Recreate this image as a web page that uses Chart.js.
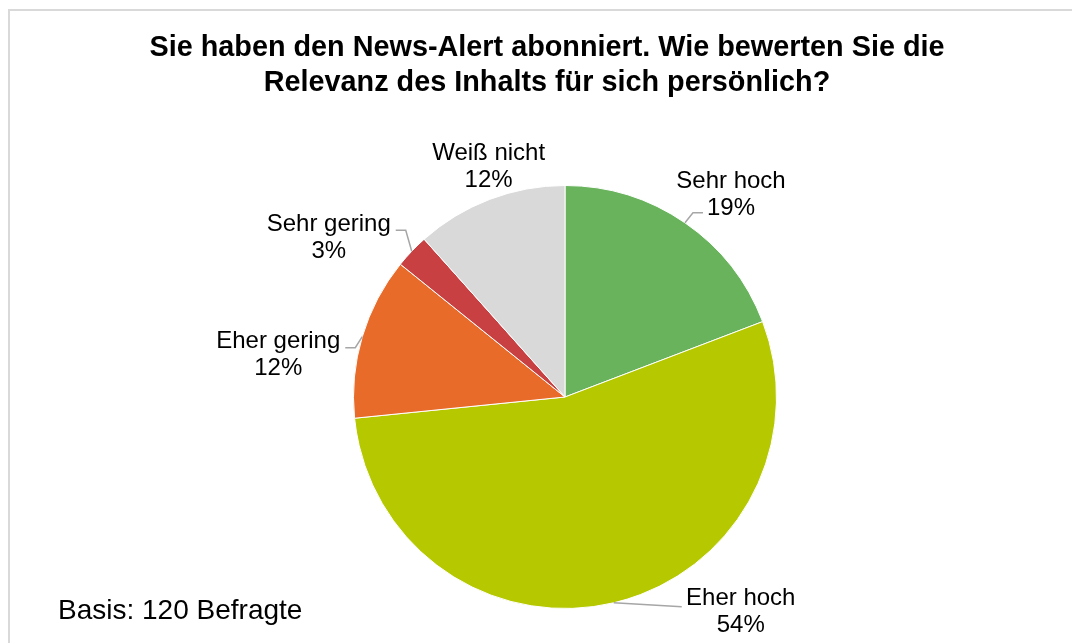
<!DOCTYPE html>
<html>
<head>
<meta charset="utf-8">
<script src="https://cdn.jsdelivr.net/npm/chart.js@4"></script>
<style>
  html, body { margin: 0; padding: 0; background: #ffffff; }
  #wrap { width: 1072px; height: 643px; position: relative; }
</style>
</head>
<body>
<div id="wrap"><canvas id="c" width="1072" height="643"></canvas></div>
<script>
// ---- data ----
const categories = ['Sehr hoch', 'Eher hoch', 'Eher gering', 'Sehr gering', 'Weiß nicht'];
const shares = [19.2, 54.2, 12.4, 2.6, 11.6];
const titleLines = ['Sie haben den News-Alert abonniert. Wie bewerten Sie die', 'Relevanz des Inhalts für sich persönlich?'];
const footnote = 'Basis: 120 Befragte';

// ---- styling ----
const sliceColors = ['#68b35c', '#b5c800', '#e96b2a', '#c84042', '#d9d9d9'];
// label centre offset from the arc's outer mid point, and leader end point relative to label centre
const labelLayout = [
  { dx: 46, dy: -28, lead: [-28, 18], stub: 10 },
  { dx: 127, dy: 9, lead: [-59, -5], stub: 0 },
  { dx: -84, dy: 18, lead: [67, -7], stub: 10 },
  { dx: -83, dy: -13, lead: [67, -8], stub: 10 },
  { dx: -1, dy: -33, lead: null, stub: 0 }
];
const FONT = '"Liberation Sans", Arial, sans-serif';

const decor = {
  id: 'decor',
  beforeDraw(chart) {
    const ctx = chart.ctx;
    ctx.save();
    ctx.strokeStyle = '#d9d9d9';
    ctx.lineWidth = 2;
    ctx.strokeRect(9, 10, 1200, 800);
    ctx.restore();
  },
  afterDraw(chart) {
    const ctx = chart.ctx;
    ctx.save();
    // title
    ctx.fillStyle = '#000000';
    ctx.textAlign = 'center';
    ctx.textBaseline = 'middle';
    ctx.font = 'bold 28.8px ' + FONT;
    titleLines.forEach((t, i) => ctx.fillText(t, 547, 48 + i * 35));
    // footnote
    ctx.textAlign = 'left';
    ctx.font = '28px ' + FONT;
    ctx.fillText(footnote, 58, 611);

    // data labels
    const meta = chart.getDatasetMeta(0);
    const total = shares.reduce((a, b) => a + b, 0);
    meta.data.forEach((arc, i) => {
      const p = arc.getProps(['x', 'y', 'startAngle', 'endAngle', 'outerRadius'], true);
      const mid = (p.startAngle + p.endAngle) / 2;
      const ax = p.x + Math.cos(mid) * p.outerRadius;
      const ay = p.y + Math.sin(mid) * p.outerRadius;
      const L = labelLayout[i];
      const cx = ax + L.dx, cy = ay + L.dy;
      if (L.lead) {
        const qx = cx + L.lead[0], qy = cy + L.lead[1];
        const dir = qx > ax ? -1 : 1;
        ctx.strokeStyle = '#a6a6a6';
        ctx.lineWidth = 1.5;
        ctx.beginPath();
        ctx.moveTo(ax, ay);
        ctx.lineTo(qx + dir * L.stub, qy);
        ctx.lineTo(qx, qy);
        ctx.stroke();
      }
      ctx.fillStyle = '#000000';
      ctx.textAlign = 'center';
      ctx.textBaseline = 'middle';
      ctx.font = '24px ' + FONT;
      const pct = Math.round(shares[i] / total * 100) + '%';
      ctx.fillText(categories[i], cx, cy - 13.5);
      ctx.fillText(pct, cx, cy + 13.5);
    });
    ctx.restore();
  }
};

new Chart(document.getElementById('c'), {
  type: 'pie',
  data: {
    labels: categories,
    datasets: [{
      data: shares,
      backgroundColor: sliceColors,
      borderColor: '#ffffff',
      borderWidth: 1
    }]
  },
  options: {
    responsive: false,
    animation: false,
    layout: { padding: { left: 353, right: 295, top: 185, bottom: 34 } },
    plugins: {
      legend: { display: false },
      tooltip: { enabled: false },
      title: { display: false }
    }
  },
  plugins: [decor]
});
</script>
</body>
</html>
